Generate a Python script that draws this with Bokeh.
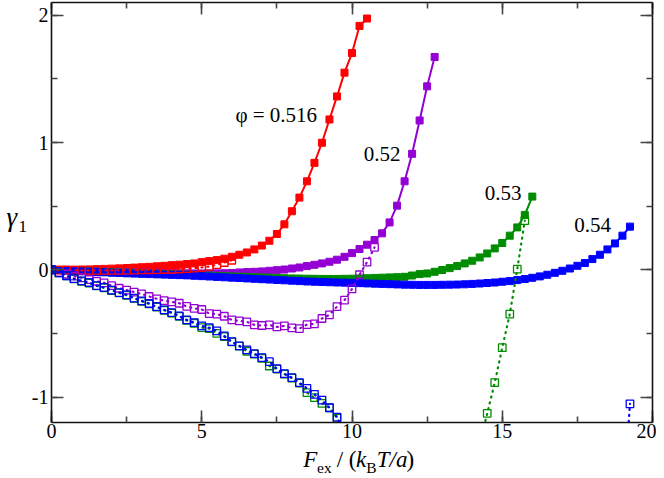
from bokeh.plotting import figure
from bokeh.models import Range1d, SingleIntervalTicker, LinearAxis, Label
from bokeh.layouts import row, column
from bokeh.embed import file_html
from bokeh.resources import INLINE

NaN = float("nan")
STEP = 0.25  # spacing of F_ex values

# phi = 0.516
red_fill = [0.000, 0.000, 0.001, 0.001, 0.002, 0.003, 0.005, 0.007, 0.009, 0.011,
            0.014, 0.017, 0.020, 0.023, 0.027, 0.031, 0.036, 0.040, 0.045, 0.050,
            0.060, 0.068, 0.076, 0.087, 0.102, 0.118, 0.136, 0.160, 0.190, 0.228,
            0.281, 0.357, 0.460, 0.567, 0.695, 0.840, 0.998, 1.181, 1.362, 1.549,
            1.703, 1.916, 1.974]
red_open = [0.000, -0.002, -0.003, -0.004, -0.005, -0.005, -0.005, -0.005, -0.005, -0.004,
            -0.003, -0.002, -0.001, 0.000, 0.001, 0.002, 0.004, 0.006, 0.009, 0.013,
            0.018, 0.026, 0.040, 0.057, 0.075]
# phi = 0.52
purple_fill = [0.000, -0.002, -0.004, -0.006, -0.008, -0.010, -0.012, -0.014, -0.016, -0.018,
               -0.019, -0.021, -0.022, -0.023, -0.024, -0.025, -0.026, -0.027, -0.028, -0.029,
               -0.029, -0.029, -0.028, -0.027, -0.025, -0.021, -0.018, -0.016, -0.013, -0.008,
               -0.003, 0.002, 0.010, 0.018, 0.029, 0.039, 0.050, 0.063, 0.079, 0.102,
               0.131, 0.163, 0.197, 0.234, 0.286, 0.372, 0.504, 0.695, 0.911, 1.173,
               1.441, 1.672]
purple_open = [0.000, -0.020, -0.035, -0.050, -0.063, -0.077, -0.090, -0.103, -0.125, -0.145,
               -0.160, -0.175, -0.190, -0.210, -0.228, -0.243, -0.252, -0.263, -0.288, -0.303,
               -0.312, -0.344, -0.349, -0.365, -0.394, -0.402, -0.409, -0.433, -0.438, -0.433,
               -0.449, -0.441, -0.457, -0.462, -0.431, -0.425, -0.383, -0.354, -0.289, -0.239,
               -0.150, -0.039, 0.060, 0.176]
# phi = 0.53
green_fill = [0.000, -0.002, -0.004, -0.007, -0.009, -0.012, -0.014, -0.017, -0.019, -0.021,
              -0.024, -0.026, -0.028, -0.030, -0.032, -0.034, -0.036, -0.038, -0.040, -0.042,
              -0.044, -0.046, -0.048, -0.050, -0.052, -0.054, -0.056, -0.058, -0.060, -0.062,
              -0.064, -0.066, -0.068, -0.069, -0.070, -0.071, -0.072, -0.072, -0.072, -0.071,
              -0.070, -0.068, -0.066, -0.064, -0.062, -0.060, -0.058, -0.055, -0.045, -0.034,
              -0.029, -0.016, -0.002, 0.013, 0.029, 0.050, 0.071, 0.097, 0.128, 0.168,
              0.210, 0.268, 0.333, 0.431, 0.575]
green_open = [0.000, -0.025, -0.047, -0.072, -0.090, -0.105, -0.126, -0.142, -0.163, -0.182,
              -0.200, -0.225, -0.248, -0.268, -0.293, -0.318, -0.340, -0.366, -0.398, -0.420,
              -0.454, -0.462, -0.500, -0.525, -0.566, -0.600, -0.640, -0.662, -0.695, -0.756,
              -0.780, -0.820, -0.852, -0.890, -0.966, -1.005, -1.050, -1.084, -1.165, -1.270,
              NaN, NaN, NaN, NaN, NaN, NaN, NaN, NaN, NaN, NaN,
              NaN, NaN, NaN, NaN, NaN, NaN, NaN, -1.370, -1.128, -0.887,
              -0.612, -0.349, 0.005, 0.386]
# phi = 0.54
blue_fill = [0.000, -0.003, -0.006, -0.009, -0.012, -0.015, -0.018, -0.020, -0.023, -0.025,
             -0.028, -0.030, -0.032, -0.034, -0.036, -0.038, -0.040, -0.042, -0.044, -0.047,
             -0.050, -0.053, -0.056, -0.059, -0.062, -0.065, -0.068, -0.071, -0.074, -0.077,
             -0.080, -0.083, -0.086, -0.089, -0.092, -0.094, -0.096, -0.098, -0.100, -0.101,
             -0.103, -0.105, -0.107, -0.109, -0.111, -0.113, -0.115, -0.117, -0.118, -0.119,
             -0.119, -0.119, -0.118, -0.117, -0.116, -0.114, -0.111, -0.108, -0.104, -0.100,
             -0.094, -0.089, -0.081, -0.073, -0.063, -0.052, -0.039, -0.024, -0.008, 0.010,
             0.031, 0.053, 0.084, 0.118, 0.160, 0.207, 0.268, 0.339]
blue_open = [0.000, -0.025, -0.047, -0.070, -0.087, -0.100, -0.124, -0.139, -0.160, -0.179,
             -0.197, -0.222, -0.244, -0.265, -0.290, -0.315, -0.336, -0.362, -0.394, -0.415,
             -0.441, -0.455, -0.480, -0.520, -0.564, -0.598, -0.630, -0.659, -0.690, -0.722,
             -0.777, -0.816, -0.848, -0.887, -0.932, -0.979, -1.024, -1.084, -1.157, -1.260,
             NaN, NaN, NaN, NaN, NaN, NaN, NaN, NaN, NaN, NaN,
             NaN, NaN, NaN, NaN, NaN, NaN, NaN, NaN, NaN, NaN,
             NaN, NaN, NaN, NaN, NaN, NaN, NaN, NaN, NaN, NaN,
             NaN, NaN, NaN, NaN, NaN, NaN, -1.900, -1.053]

curve_labels = ["\u03c6 = 0.516", "0.52", "0.53", "0.54"]
curve_label_x = [6.12, 10.39, 14.42, 17.40]
curve_label_y = [1.219, 0.912, 0.600, 0.351]   # vertical centre of each label

y_ticks = [-1, 0, 1, 2]

COLORS = ["#ff0000", "#9400d3", "#008c00", "#0000ff"]
SERIF = "Liberation Serif"
MID = 0.3375   # baseline offset below the em-box middle, as fraction of font size


def grid(vals):
    return [i * STEP for i in range(len(vals))]


YT_W = 28            # strip holding the y title
MAIN_W, MAIN_H = 628, 446
XT_H = 32            # strip holding the x title

# ---------------- main plot ----------------
p = figure(width=MAIN_W, height=MAIN_H, x_range=Range1d(0, 20), y_range=Range1d(-1.2, 2.1),
           output_backend="svg", toolbar_location=None,
           min_border_left=23, min_border_right=4, min_border_top=2, min_border_bottom=24)
p.xgrid.visible = False
p.ygrid.visible = False
p.outline_line_color = None


def style_axis(ax, ticker, labels=True, overrides=None, standoff=4):
    ax.ticker = ticker
    ax.axis_line_color = "#111111"
    ax.axis_line_width = 1.6
    ax.major_tick_line_color = "#444444"
    ax.minor_tick_line_color = "#444444"
    ax.major_tick_line_width = 1.6
    ax.minor_tick_line_width = 1.6
    ax.major_tick_in = 12
    ax.major_tick_out = 0
    ax.minor_tick_in = 6
    ax.minor_tick_out = 0
    if labels:
        ax.major_label_text_font = SERIF
        ax.major_label_text_font_size = "20px"
        ax.major_label_text_color = "black"
        ax.major_label_standoff = standoff
        if overrides:
            ax.major_label_overrides = overrides
    else:
        ax.major_label_text_font_size = "0px"
        ax.major_label_text_alpha = 0
        ax.major_label_standoff = 0


style_axis(p.xaxis[0], SingleIntervalTicker(interval=5, num_minor_ticks=2), standoff=1)
style_axis(p.yaxis[0], SingleIntervalTicker(interval=1, num_minor_ticks=2),
           overrides={v: str(v) for v in y_ticks}, standoff=3)
top = LinearAxis()
right = LinearAxis()
style_axis(top, SingleIntervalTicker(interval=5, num_minor_ticks=2), labels=False)
style_axis(right, SingleIntervalTicker(interval=1, num_minor_ticks=2), labels=False)
p.add_layout(top, "above")
p.add_layout(right, "right")

series = [(red_fill, red_open), (purple_fill, purple_open),
          (green_fill, green_open), (blue_fill, blue_open)]
for (fill, opn), c in zip(series, COLORS):
    p.line(grid(fill), fill, line_color=c, line_width=2)
    p.scatter(grid(fill), fill, marker="square", size=7, fill_color=c, line_color=c, line_width=1)
for (fill, opn), c in zip(series, COLORS):
    p.line(grid(opn), opn, line_color=c, line_width=2.2, line_dash="1 5", line_cap="round")
    p.scatter(grid(opn), opn, marker="square", size=7.5, fill_alpha=0, line_color=c, line_width=1.3)

for t, lx, ly in zip(curve_labels, curve_label_x, curve_label_y):
    p.add_layout(Label(x=lx, y=ly, text=t, text_font=SERIF, text_font_size="21px",
                       text_color="black", text_baseline="middle"))


def strip(w, h):
    f = figure(width=w, height=h, x_range=Range1d(0, w), y_range=Range1d(0, h),
               output_backend="svg", toolbar_location=None, x_axis_type=None, y_axis_type=None,
               min_border=0)
    f.xgrid.visible = False
    f.ygrid.visible = False
    f.outline_line_color = None
    return f


xfig = strip(MAIN_W, XT_H)
yfig = strip(YT_W, MAIN_H + XT_H)


def put(fig, pieces, left, top_page, fig_h, px0, base):
    """Place text pieces; px0/base are page pixel positions of the start / baseline."""
    px = px0
    for text, style, size, dy, adv in pieces:
        mid = base + dy - MID * size
        fig.add_layout(Label(x=px - left, y=(top_page + fig_h) - mid, text=text,
                             text_font=SERIF, text_font_style=style,
                             text_font_size=f"{size}px", text_color="black",
                             text_baseline="middle"))
        px += adv


# x title (xfig page origin: YT_W, MAIN_H)
put(xfig, [("F", "italic", 23, 0, 14.5), ("ex", "normal", 15.5, 5, 20.5),
           ("/ (", "normal", 23, 0, 20.3), ("k", "italic", 23, 0, 10.6),
           ("B", "normal", 15.5, 5, 11), ("T/a", "italic", 23, 0, 31),
           (")", "normal", 23, 0, 8)],
    YT_W, MAIN_H, XT_H, 291, 467)
# y title (yfig page origin: 0, 0)
put(yfig, [("\u03b3", "italic", 27, 0, 12), ("1", "normal", 17, 6, 9)],
    0, 0, MAIN_H + XT_H, 6, 226)

layout = row(yfig, column(p, xfig))
open("out.html", "w").write(file_html(layout, INLINE))
